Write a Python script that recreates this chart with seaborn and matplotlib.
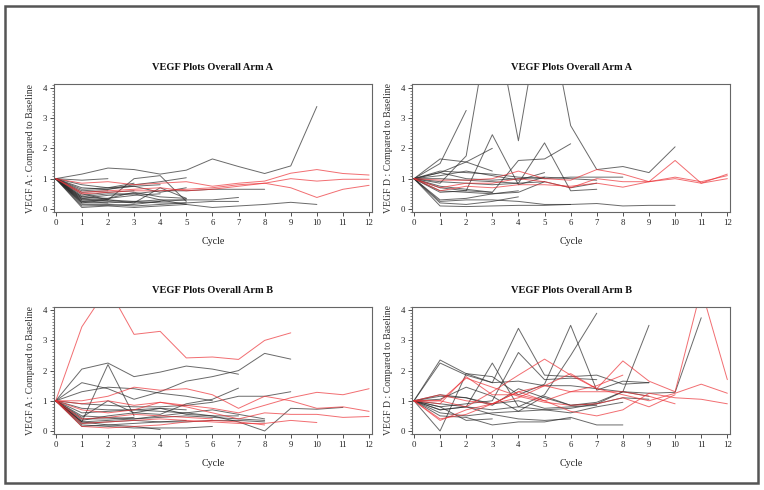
import matplotlib
matplotlib.use("Agg")
import matplotlib.pyplot as plt
import numpy as np
import pandas as pd
import seaborn as sns
from matplotlib.patches import Rectangle
from matplotlib.ticker import MultipleLocator

# values per subject, one entry per cycle (0, 1, 2, ...), series stop when follow-up ends
vegfa_arm_a_black = [
    [1, 1.15, 1.35, 1.3, 1.15, 1.28, 1.65, 1.4, 1.17, 1.42, 3.38],
    [1, 0.95, 1.0],
    [1, 0.5, 0.3, 1.0, 1.1, 0.25],
    [1, 0.6, 0.65, 0.8, 0.9, 1.03],
    [1, 0.3, 0.25, 0.2, 0.7, 0.35],
    [1, 0.05, 0.1, 0.05, 0.1, 0.15, 0.05, 0.1, 0.15, 0.22, 0.15],
    [1, 0.4, 0.5, 0.5, 0.6, 0.6, 0.65, 0.65, 0.65],
    [1, 0.2, 0.2, 0.25, 0.3, 0.3, 0.3, 0.38],
    [1, 0.25, 0.3, 0.25, 0.2, 0.2, 0.25, 0.25],
    [1, 0.7, 0.65, 0.75, 0.55, 0.7],
    [1, 0.15, 0.15, 0.1, 0.15, 0.2],
    [1, 0.35, 0.45, 0.5, 0.3, 0.15],
    [1, 0.1, 0.12, 0.15, 0.25],
    [1, 0.45, 0.55, 0.6],
    [1, 0.55, 0.6],
    [1, 0.3, 0.35, 0.45, 0.5],
    [1, 0.65, 0.7, 0.75, 0.8],
    [1, 0.2, 0.3],
    [1, 0.4, 0.35, 0.55, 0.4, 0.35],
    [1, 0.8, 0.7, 0.85],
    [1, 0.25, 0.2],
    [1, 0.35, 0.3, 0.2, 0.25, 0.3],
]
vegfa_arm_a_red = [
    [1, 0.85, 0.9, 0.8, 0.85, 0.9, 0.75, 0.85, 0.92, 1.18, 1.3, 1.17, 1.12],
    [1, 0.55, 0.6, 0.65, 0.7, 0.6, 0.65, 0.75, 0.85, 1.0, 0.92, 0.98, 0.98],
    [1, 0.5, 0.55, 0.6, 0.6, 0.65, 0.7, 0.8, 0.85, 0.7, 0.38, 0.65, 0.78],
]

vegfd_arm_a_black = [
    [1, 1.5, 3.25],
    [1, 0.85, 1.75, 6.75, 2.25, 7.25, 2.75, 1.3, 1.4, 1.2, 2.05],
    [1, 1.65, 1.55, 1.25],
    [1, 1.2, 1.55, 2.0],
    [1, 0.55, 0.6, 2.45, 0.8, 1.05],
    [1, 0.7, 0.6, 0.55, 1.6, 1.65, 2.15],
    [1, 1.0, 0.95, 0.9, 0.85, 2.18, 0.6, 0.65],
    [1, 0.1, 0.08, 0.1, 0.12, 0.12, 0.15, 0.18, 0.1, 0.12, 0.12],
    [1, 0.25, 0.3, 0.3, 0.25, 0.15, 0.15],
    [1, 0.2, 0.15, 0.25, 0.4],
    [1, 1.25, 1.2, 1.15, 1.05, 1.0, 1.05, 1.05, 1.05],
    [1, 1.1, 1.25, 1.1, 0.95, 1.2],
    [1, 0.9, 0.85, 0.8, 0.85, 0.9, 0.7, 0.85],
    [1, 0.6, 0.55, 0.5, 0.55, 0.9],
    [1, 0.75, 0.65, 0.55],
    [1, 0.3, 0.35, 0.5, 0.6],
    [1, 1.2, 1.0, 0.95, 1.0, 1.05, 1.0, 0.95],
]
vegfd_arm_a_red = [
    [1, 0.95, 0.95, 1.0, 1.25, 1.0, 0.95, 1.3, 1.15, 0.9, 1.6, 0.85, 1.15],
    [1, 0.7, 0.85, 0.85, 1.0, 0.9, 0.7, 1.0, 0.9, 0.9, 1.05, 0.9, 1.1],
    [1, 0.6, 0.75, 0.7, 0.8, 0.8, 0.75, 0.85, 0.72, 0.9, 1.0, 0.85, 1.0],
]

vegfa_arm_b_black = [
    [1, 2.05, 2.25, 1.8, 1.95, 2.15, 2.05, 1.88],
    [1, 1.6, 1.4, 1.05, 1.3, 1.65, 1.8, 2.0, 2.57, 2.38],
    [1, 0.3, 2.2, 0.5],
    [1, 1.3, 1.45, 1.4, 1.25, 1.15, 1.0],
    [1, 0.45, 1.0, 0.6, 0.55, 0.9, 1.05, 1.42],
    [1, 0.35, 0.5, 0.6, 0.75, 0.55, 0.5, 0.3, 0.0, 0.75, 0.72, 0.78],
    [1, 0.9, 0.85, 0.8, 0.8, 0.85, 0.95, 1.15, 1.15, 1.3],
    [1, 0.3, 0.2, 0.15, 0.05],
    [1, 0.2, 0.15, 0.1, 0.1, 0.1, 0.15],
    [1, 0.5, 0.45, 0.4, 0.45, 0.5, 0.45, 0.4, 0.35],
    [1, 0.3, 0.35, 0.4, 0.5, 0.6, 0.7, 0.55, 0.4],
    [1, 0.6, 0.65, 0.7, 0.65, 0.6, 0.5, 0.5],
    [1, 0.25, 0.3, 0.35, 0.3, 0.35],
    [1, 0.75, 0.7, 0.7, 0.75, 0.7],
    [1, 0.4, 0.4, 0.45],
    [1, 0.15, 0.2, 0.25, 0.3, 0.3, 0.35, 0.35, 0.3],
]
vegfa_arm_b_red = [
    [1, 3.45, 4.75, 3.2, 3.3, 2.42, 2.45, 2.37, 3.0, 3.25],
    [1, 1.0, 1.15, 1.45, 1.35, 1.4, 1.2, 0.75, 1.15, 1.0, 0.75, 0.8, 0.65],
    [1, 0.9, 1.0, 0.85, 0.95, 0.85, 0.75, 0.6, 0.85, 1.1, 1.28, 1.2, 1.4],
    [1, 0.7, 0.6, 0.7, 0.95, 0.8, 0.6, 0.4, 0.6, 0.55, 0.55, 0.45, 0.48],
    [1, 0.25, 0.3, 0.35, 0.4, 0.35, 0.3, 0.25, 0.25, 0.35, 0.28],
    [1, 0.15, 0.1, 0.15, 0.2, 0.3, 0.35, 0.3, 0.2],
    [1, 0.4, 0.45, 0.55, 0.5, 0.45, 0.4],
]

vegfd_arm_b_black = [
    [1, 2.35, 1.9, 1.6, 3.4, 1.85, 1.8, 1.85, 1.55, 1.6],
    [1, 2.25, 1.85, 1.6, 1.65, 1.5, 1.5, 1.4, 1.3, 1.15],
    [1, 0.0, 1.9, 1.8, 1.2, 1.55, 3.5, 1.35, 1.65, 1.6],
    [1, 0.7, 0.8, 2.25, 0.8, 1.2, 2.5, 3.9],
    [1, 0.8, 0.9, 1.0, 2.6, 1.7, 1.75, 1.7],
    [1, 0.5, 0.45, 0.2, 0.3, 0.3, 0.45, 0.2, 0.2],
    [1, 0.7, 0.8, 0.7, 0.8, 0.7, 0.75, 0.9, 1.3, 3.5],
    [1, 1.05, 1.45, 1.15, 0.65, 1.15, 0.85, 0.95, 1.3, 1.25, 1.28, 3.75],
    [1, 1.15, 1.1, 0.85, 1.4, 1.1, 0.85, 0.9, 1.1, 1.05],
    [1, 0.6, 0.5, 0.6, 0.65, 0.7, 0.6, 0.8, 0.95],
    [1, 0.9, 0.8, 0.55, 0.4, 0.35, 0.4],
    [1, 0.8, 0.35, 0.4],
    [1, 1.2, 1.1, 0.9, 1.0, 0.75, 0.8, 0.85],
]
vegfd_arm_b_red = [
    [1, 1.0, 0.8, 1.3, 1.85, 2.38, 1.85, 1.4, 2.32, 1.65, 1.3, 4.7, 1.7],
    [1, 0.4, 0.55, 0.9, 1.3, 1.0, 1.3, 1.5, 1.85],
    [1, 0.35, 0.7, 0.9, 1.1, 1.5, 1.9, 1.4, 1.2, 1.0, 1.25, 1.55, 1.25],
    [1, 0.9, 1.8, 1.2, 1.2, 1.0, 0.65, 0.5, 0.7, 1.25, 1.1, 1.05, 0.9],
    [1, 1.0, 1.75, 1.45, 1.15, 0.95, 0.85, 0.9, 1.1, 0.8, 1.2],
    [1, 1.2, 1.0, 0.9, 1.3, 1.5, 1.3, 1.3, 1.3, 1.15, 0.9],
]

panels = [
    ("VEGF Plots Overall Arm A", "VEGF A : Compared to Baseline", vegfa_arm_a_black, vegfa_arm_a_red),
    ("VEGF Plots Overall Arm A", "VEGF D : Compared to Baseline", vegfd_arm_a_black, vegfd_arm_a_red),
    ("VEGF Plots Overall Arm B", "VEGF A : Compared to Baseline", vegfa_arm_b_black, vegfa_arm_b_red),
    ("VEGF Plots Overall Arm B", "VEGF D : Compared to Baseline", vegfd_arm_b_black, vegfd_arm_b_red),
]


def to_frame(black, red):
    rows = []
    for grp, series in (("black", black), ("red", red)):
        for i, vals in enumerate(series):
            for cyc, v in enumerate(vals):
                rows.append({"subject": f"{grp}{i}", "group": grp, "cycle": cyc, "value": v})
    return pd.DataFrame(rows)


sns.set_theme(style="white")
plt.rcParams["font.family"] = ["Liberation Serif", "DejaVu Serif"]

fig = plt.figure(figsize=(7.64, 4.9), dpi=100)
positions = [
    [0.0702, 0.5673, 0.417, 0.2612],
    [0.5391, 0.5673, 0.417, 0.2612],
    [0.0702, 0.1143, 0.417, 0.2600],
    [0.5391, 0.1143, 0.417, 0.2600],
]
palette = {"black": "#2a2a2a", "red": "#ec3035"}

for pos, (title, ylabel, black, red) in zip(positions, panels):
    ax = fig.add_axes(pos)
    df = to_frame(black, red)
    sns.lineplot(
        data=df, x="cycle", y="value", hue="group", units="subject",
        estimator=None, palette=palette, linewidth=0.7, alpha=0.7,
        legend=False, ax=ax,
    )
    ax.set_xlim(-0.08, 12.12)
    ax.set_ylim(-0.1, 4.12)
    ax.set_xticks(range(13))
    ax.set_yticks(range(5))
    ax.yaxis.set_minor_locator(MultipleLocator(0.1))
    ax.tick_params(axis="both", which="major", direction="out", length=3, width=0.6,
                   labelsize=6.3, pad=2, color="#333333", labelcolor="#222222",
                   bottom=True, left=True)
    ax.tick_params(axis="y", which="minor", direction="out", length=1.5, width=0.5,
                   color="#555555", left=True)
    for sp in ax.spines.values():
        sp.set_color("#666666")
        sp.set_linewidth(0.8)
    ax.set_title(title, fontsize=7.5, fontweight="bold", pad=10, color="#111111")
    ax.set_xlabel("Cycle", fontsize=7.2, labelpad=7, color="#222222")
    ax.set_ylabel(ylabel, fontsize=7, labelpad=5, color="#333333")

# outer frame around the whole figure
fig.patches.append(Rectangle((5 / 764, 1 - 483 / 490), 753 / 764, 477 / 490,
                             transform=fig.transFigure, fill=False,
                             edgecolor="#555555", linewidth=1.8))

fig.savefig("out.png", dpi=100)
plt.close(fig)
